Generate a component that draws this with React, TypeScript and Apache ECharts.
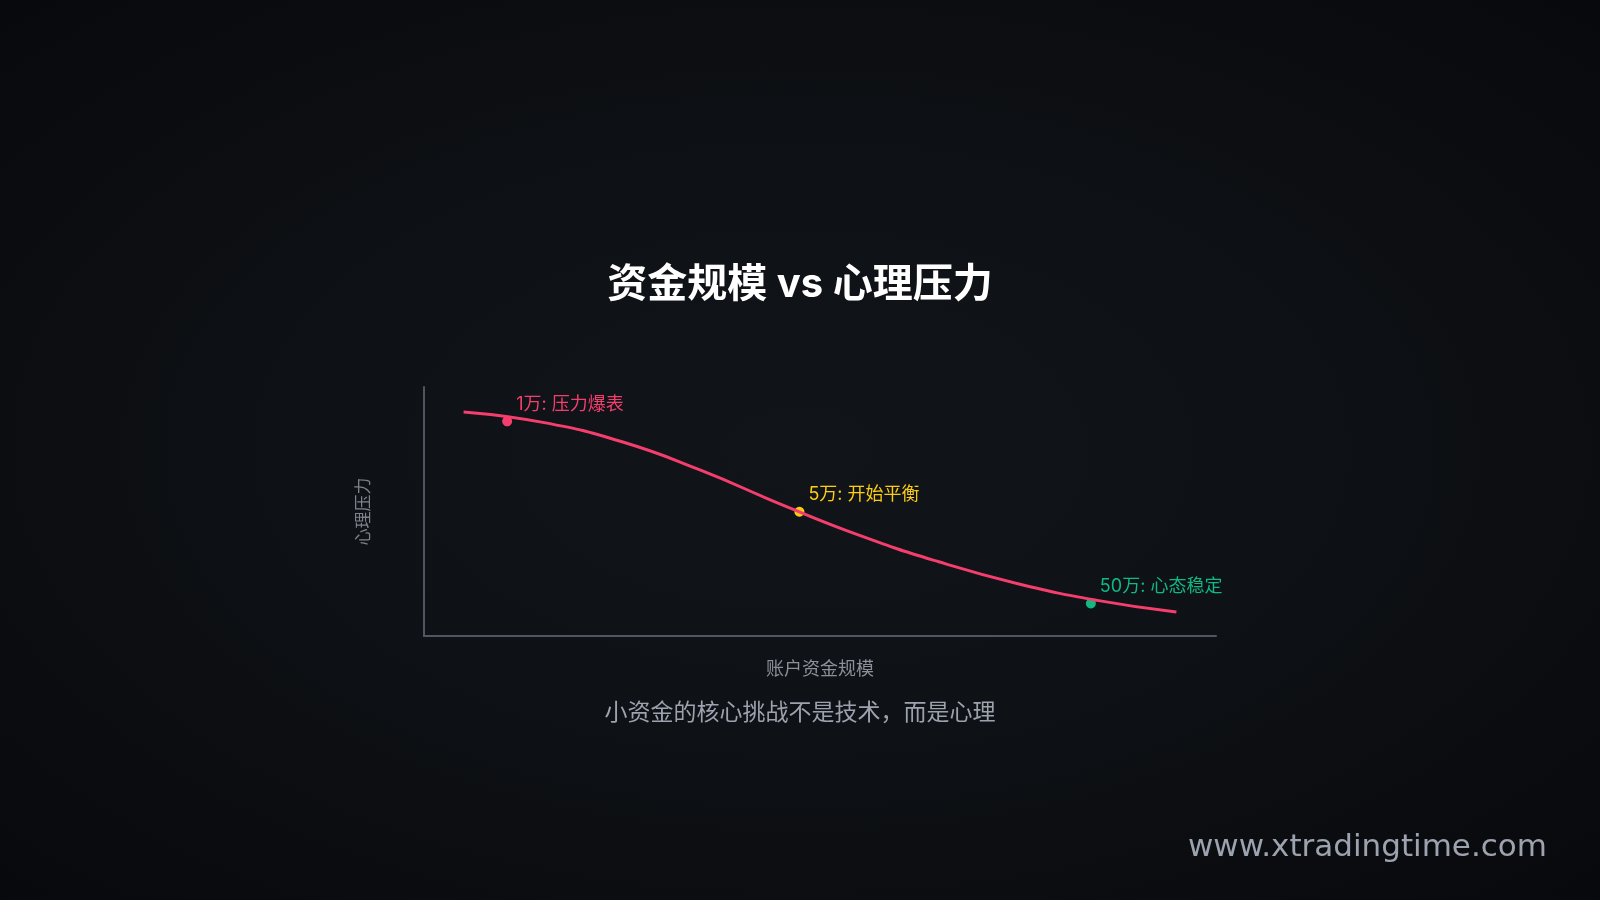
import { useEffect, useRef } from "react";
import * as echarts from "echarts";

// Stress curve, sampled along the account-size axis (0-100 scale)
const curveX = [5, 15, 25, 35, 45, 55, 65, 75, 85, 95];
const curveY = [90, 85.8, 78, 66.5, 53, 40.4, 29.8, 21, 14.3, 9.6];

// Highlighted milestones
const pointX = [10.5, 47.4, 84.2];
const pointY = [86.2, 49.9, 13.1];
const pointLabels = ["1万: 压力爆表", "5万: 开始平衡", "50万: 心态稳定"];
const pointColors = ["#f43f6e", "#facc15", "#10b981"];

const TITLE = "资金规模 vs 心理压力";
const SUBTITLE = "小资金的核心挑战不是技术，而是心理";
const X_NAME = "账户资金规模";
const Y_NAME = "心理压力";
const WATERMARK = "www.xtradingtime.com";

const FONT = "Inter, 'Noto Sans CJK SC', sans-serif";

export default function App() {
  const chartRef = useRef<HTMLDivElement>(null);

  useEffect(() => {
    if (!chartRef.current) return;
    const chart = echarts.init(chartRef.current, undefined, { renderer: "svg" });

    const lineData = curveX.map((x, i) => [x, curveY[i]]);
    const pointData = pointX.map((x, i) => ({
      value: [x, pointY[i]],
      itemStyle: { color: pointColors[i], opacity: 1 },
      label: { color: pointColors[i], formatter: pointLabels[i] },
    }));

    const axisLine = { show: true, lineStyle: { color: "#50555f", width: 2 } };

    chart.setOption({
      animation: false,
      backgroundColor: "transparent",
      textStyle: { fontFamily: FONT },
      title: {
        text: TITLE,
        left: "center",
        top: 257,
        textStyle: { color: "#ffffff", fontSize: 40, fontWeight: "bold", fontFamily: FONT },
      },
      grid: { left: 424, right: 384, top: 387, bottom: 264 },
      xAxis: {
        type: "value",
        min: 0,
        max: 100,
        name: X_NAME,
        nameLocation: "middle",
        nameGap: 23,
        nameTextStyle: { color: "#8b9099", fontSize: 18, fontFamily: FONT },
        axisLine,
        axisTick: { show: false },
        axisLabel: { show: false },
        splitLine: { show: false },
      },
      yAxis: {
        type: "value",
        min: 0,
        max: 100,
        name: Y_NAME,
        nameLocation: "middle",
        nameGap: 53,
        nameTextStyle: { color: "#7d828b", fontSize: 17, fontFamily: FONT },
        axisLine,
        axisTick: { show: false },
        axisLabel: { show: false },
        splitLine: { show: false },
      },
      graphic: [
        {
          type: "text",
          left: "center",
          top: 700,
          style: {
            text: SUBTITLE,
            fill: "#9ca3af",
            fontSize: 23,
            fontFamily: FONT,
          },
        },
        {
          type: "text",
          right: 53,
          top: 829,
          style: {
            text: WATERMARK,
            fill: "#9ca3af",
            fontSize: 31,
            fontFamily: "'DejaVu Sans', sans-serif",
          },
        },
      ],
      series: [
        {
          type: "scatter",
          data: pointData,
          symbol: "circle",
          symbolSize: 10,
          z: 2,
          label: {
            show: true,
            position: "right",
            distance: 4,
            offset: [0, -18],
            fontSize: 18,
            fontFamily: FONT,
          },
        },
        {
          type: "line",
          data: lineData,
          smooth: true,
          showSymbol: false,
          z: 3,
          lineStyle: { color: "#f43f6e", width: 3 },
        },
      ],
    });

    return () => {
      chart.dispose();
    };
  }, []);

  return (
    <div
      ref={chartRef}
      style={{
        position: "fixed",
        left: 0,
        top: 0,
        width: 1600,
        height: 900,
        background:
          "radial-gradient(ellipse at 50% 50%, #111418 0%, #0e1115 45%, #08090c 100%)",
      }}
    />
  );
}
